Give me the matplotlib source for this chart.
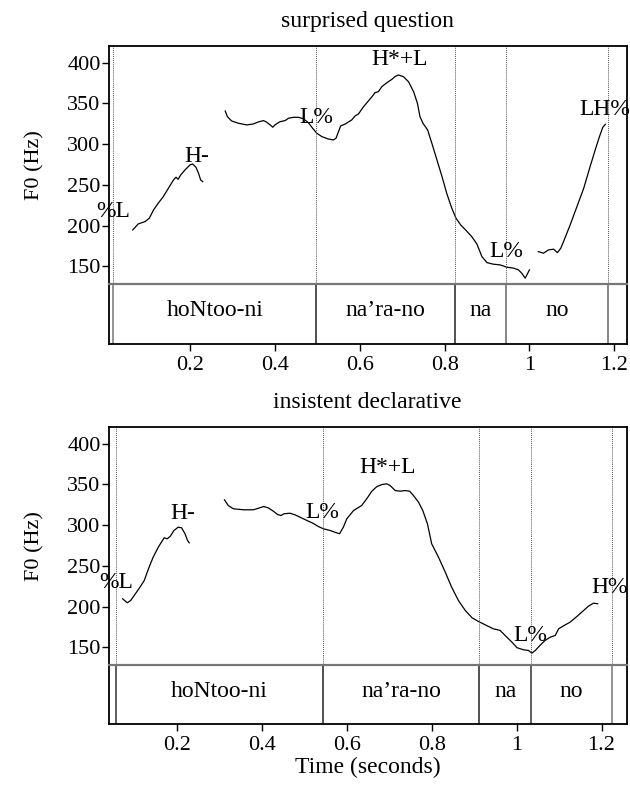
import matplotlib
matplotlib.use("Agg")
import matplotlib.pyplot as plt

plt.rcParams['font.family'] = ['Liberation Serif', 'DejaVu Serif']
plt.rcParams['font.size'] = 16

# ---------------- data: surprised question ----------------
sq_title = "surprised question"
sq_seg1_t = [0.065, 0.078, 0.094, 0.104, 0.114, 0.125, 0.137, 0.149, 0.161, 0.167, 0.172, 0.178,
             0.188, 0.200, 0.206, 0.214, 0.220, 0.225, 0.230]
sq_seg1_f = [194.8, 202.2, 205.0, 209.1, 219.3, 227.5, 235.6, 245.9, 256.1, 259.4, 256.9, 262.2,
             268.3, 274.5, 275.7, 271.6, 264.3, 256.1, 254.0]
sq_seg2_t = [0.283, 0.288, 0.298, 0.314, 0.334, 0.349, 0.361, 0.373, 0.379, 0.389, 0.395, 0.400,
             0.412, 0.424, 0.432, 0.444, 0.455, 0.467, 0.479, 0.489, 0.499, 0.511, 0.526, 0.538,
             0.544, 0.550, 0.555, 0.566, 0.581, 0.589, 0.597, 0.609, 0.629, 0.636, 0.644, 0.652,
             0.664, 0.676, 0.683, 0.691, 0.703, 0.715, 0.727, 0.736, 0.742, 0.749, 0.760, 0.770,
             0.782, 0.794, 0.805, 0.817, 0.827, 0.838, 0.851, 0.864, 0.876, 0.888, 0.900, 0.915,
             0.931, 0.947, 0.963, 0.974, 0.982, 0.990, 0.996, 1.000]
sq_seg2_f = [340.6, 333.7, 328.4, 325.6, 323.5, 324.7, 327.2, 328.8, 327.5, 323.5, 320.7, 323.5,
             327.5, 328.8, 331.7, 332.9, 332.9, 331.2, 326.3, 319.4, 313.3, 309.1, 306.3, 305.1,
             307.2, 315.3, 322.3, 324.7, 329.6, 334.5, 337.0, 345.9, 358.2, 363.1, 364.3, 370.4,
             375.3, 379.5, 382.7, 384.8, 382.7, 376.5, 364.3, 350.1, 333.7, 325.6, 317.4, 301.1,
             280.6, 260.1, 239.8, 221.4, 209.1, 200.9, 194.0, 186.6, 177.7, 162.1, 154.7, 152.8,
             151.9, 149.1, 147.9, 145.8, 141.7, 135.6, 141.7, 145.8]
sq_seg3_t = [1.021, 1.033, 1.045, 1.057, 1.066, 1.074, 1.082, 1.096, 1.112, 1.128, 1.143, 1.155,
             1.165, 1.173, 1.179]
sq_seg3_f = [168.2, 166.3, 170.3, 171.2, 167.0, 172.4, 182.6, 200.9, 223.4, 245.9, 272.4, 292.8,
             309.1, 320.7, 324.3]
sq_tones = ["%L", "H-", "L%", "H*+L", "L%", "LH%"]
sq_tone_t = [0.019, 0.216, 0.497, 0.694, 0.945, 1.177]
sq_tone_f = [217.2, 284.6, 332.9, 404.0, 168.2, 341.9]
sq_bounds = [0.0193, 0.497, 0.825, 0.945, 1.185]
sq_words = ["hoNtoo-ni", "na\u2019ra-no", "na", "no"]
sq_xlim = (0.009, 1.230)

# ---------------- data: insistent declarative ----------------
id_title = "insistent declarative"
id_seg1_t = [0.072, 0.083, 0.091, 0.101, 0.113, 0.123, 0.133, 0.144, 0.156, 0.170, 0.177, 0.184,
             0.193, 0.203, 0.211, 0.219, 0.225, 0.229]
id_seg1_f = [209.7, 204.8, 207.6, 215.0, 223.9, 232.1, 246.5, 260.7, 272.9, 284.5, 283.2, 286.1,
             293.4, 297.5, 296.7, 289.4, 281.2, 278.3]
id_seg2_t = [0.312, 0.321, 0.333, 0.357, 0.380, 0.392, 0.404, 0.415, 0.427, 0.437, 0.445, 0.452,
             0.466, 0.478, 0.490, 0.506, 0.520, 0.533, 0.545, 0.561, 0.572, 0.583, 0.592, 0.600,
             0.616, 0.635, 0.647, 0.659, 0.671, 0.683, 0.694, 0.702, 0.714, 0.726, 0.737, 0.748,
             0.757, 0.769, 0.779, 0.790, 0.800, 0.816, 0.832, 0.847, 0.863, 0.879, 0.895, 0.910,
             0.926, 0.945, 0.961, 0.973, 0.989, 1.001, 1.016, 1.028, 1.036, 1.044, 1.055, 1.067,
             1.079, 1.091, 1.099, 1.112, 1.126, 1.142, 1.158, 1.169, 1.181, 1.191]
id_seg2_f = [331.0, 324.0, 320.0, 318.8, 318.8, 320.7, 322.8, 321.2, 317.1, 313.0, 311.8, 313.9,
             314.6, 312.6, 309.7, 305.7, 302.4, 298.3, 295.5, 293.4, 291.3, 289.4, 297.5, 307.7,
             317.9, 324.0, 332.3, 341.6, 347.3, 349.8, 350.6, 348.6, 342.4, 341.6, 342.4, 341.6,
             336.3, 328.1, 317.9, 301.6, 277.1, 260.7, 242.3, 223.9, 207.6, 195.4, 186.4, 181.9,
             177.8, 172.9, 170.9, 164.7, 156.5, 149.7, 147.2, 146.3, 143.0, 146.3, 152.5, 158.6,
             162.6, 164.7, 172.9, 177.0, 181.0, 188.0, 195.4, 200.6, 204.3, 203.6]
id_tones = ["%L", "H-", "L%", "H*+L", "L%", "H%"]
id_tone_t = [0.0565, 0.214, 0.5425, 0.697, 1.032, 1.220]
id_tone_f = [230.0, 313.9, 315.8, 371.0, 164.7, 223.9]
id_bounds = [0.0563, 0.544, 0.912, 1.035, 1.224]
id_words = ["hoNtoo-ni", "na\u2019ra-no", "na", "no"]
id_xlim = (0.040, 1.260)

yticks = [150, 200, 250, 300, 350, 400]
xticks = [0.2, 0.4, 0.6, 0.8, 1.0, 1.2]
xticklabels = ["0.2", "0.4", "0.6", "0.8", "1", "1.2"]
ylim = (128.5, 420.3)

W, H = 630, 785
fig = plt.figure(figsize=(W / 100, H / 100), dpi=100)


def fr(x0, y0, x1, y1):
    return [x0 / W, 1 - y1 / H, (x1 - x0) / W, (y1 - y0) / H]


def panel(ptop, pbot, tbot, title, segs, tones, tone_t, tone_f, bounds, words, xlim,
          bound_cols, xlabel=None):
    ax = fig.add_axes(fr(109, ptop, 627, pbot))
    tx = fig.add_axes(fr(109, pbot, 627, tbot))
    for a in (ax, tx):
        a.set_xlim(*xlim)
        for s in a.spines.values():
            s.set_linewidth(1.3)
            s.set_color('black')
    ax.set_ylim(*ylim)
    ax.spines['bottom'].set_visible(False)
    ax.set_xticks([])
    ax.set_yticks(yticks)
    ax.set_yticklabels([str(v) for v in yticks])
    ax.tick_params(axis='y', direction='out', length=5, width=1.0, pad=1, labelsize=16)
    for t, f in segs:
        ax.plot(t, f, color='black', lw=0.9)
    for b in bounds:
        ax.axvline(b, color='#555555', lw=0.7, linestyle=(0, (1, 1)))
    for lab, t, f in zip(tones, tone_t, tone_f):
        ax.text(t, f, lab, ha='center', va='center', fontsize=17, clip_on=False)
    fig.text(367 / W, 1 - (ptop - 25) / H, title, ha='center', va='center', fontsize=17)
    fig.text(35 / W, 1 - ((ptop + pbot) / 2) / H, "F0 (Hz)", rotation=90,
             ha='center', va='center', fontsize=16)

    tx.set_ylim(0, 1)
    tx.set_yticks([])
    tx.spines['top'].set_color('#777777')
    tx.spines['top'].set_linewidth(1.6)
    for b, c in zip(bounds, bound_cols):
        tx.axvline(b, color=c, lw=1.1)
    for i, w in enumerate(words):
        tx.text((bounds[i] + bounds[i + 1]) / 2, 0.55, w, ha='center', va='center', fontsize=17)
    tx.set_xticks(xticks)
    tx.set_xticklabels(xticklabels)
    tx.tick_params(axis='x', direction='out', length=5, width=1.0, pad=4, labelsize=16)
    if xlabel:
        tx.set_xlabel(xlabel, fontsize=17, labelpad=1)
    return ax, tx


panel(46, 284, 344, sq_title,
      [(sq_seg1_t, sq_seg1_f), (sq_seg2_t, sq_seg2_f), (sq_seg3_t, sq_seg3_f)],
      sq_tones, sq_tone_t, sq_tone_f, sq_bounds, sq_words, sq_xlim,
      ['#777777', '#222222', '#222222', '#666666', '#666666'])
panel(427, 665, 724, id_title,
      [(id_seg1_t, id_seg1_f), (id_seg2_t, id_seg2_f)],
      id_tones, id_tone_t, id_tone_f, id_bounds, id_words, id_xlim,
      ['#333333', '#222222', '#222222', '#333333', '#777777'],
      xlabel="Time (seconds)")

fig.savefig("out.png", dpi=100)
